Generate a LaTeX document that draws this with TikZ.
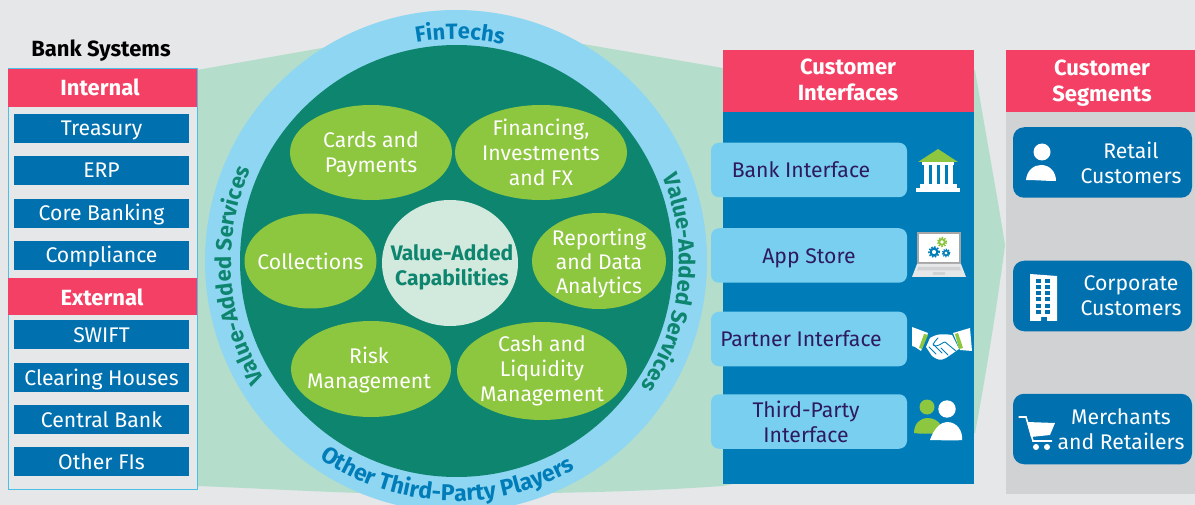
\documentclass[tikz,border=0pt]{standalone}
\usepackage{fontspec}
\setmainfont{Fira Sans}
\usetikzlibrary{shapes.geometric,decorations.text,calc}
\definecolor{bgc}{HTML}{E6E7E9}
\definecolor{bandc}{HTML}{B4DECB}
\definecolor{ringc}{HTML}{8FD6F2}
\definecolor{tealc}{HTML}{0E856E}
\definecolor{limec}{HTML}{8DC63F}
\definecolor{palec}{HTML}{D2E9DD}
\definecolor{redc}{HTML}{F44064}
\definecolor{rowc}{HTML}{0070AF}
\definecolor{panelc}{HTML}{007DB8}
\definecolor{skyc}{HTML}{78CFEF}
\definecolor{grayc}{HTML}{D1D2D4}
\definecolor{inkc}{HTML}{2E1A5E}
\definecolor{edgec}{HTML}{4BBFE6}
\tikzset{
  txt/.style={inner sep=0pt,align=center,font=\fontsize{21.2}{25}\selectfont},
  wtxt/.style={txt,text=white},
  head/.style={inner sep=0pt,align=center,text=white,font=\fontsize{22}{26}\selectfont\bfseries},
  redbar/.style={fill=redc,inner sep=0pt,minimum width=#1},
  rowbox/.style={fill=rowc,text=white,inner sep=0pt,minimum width=175pt,minimum height=29pt,text height=19pt,text depth=4pt,font=\fontsize{21.2}{25}\selectfont},
  skybox/.style={fill=skyc,rounded corners=8pt,inner sep=0pt,minimum width=196pt,minimum height=54.5pt},
  segbox/.style={fill=rowc,rounded corners=11pt,inner sep=0pt,minimum width=179pt,minimum height=70.5pt},
  bub/.style={ellipse,fill=limec,inner sep=0pt},
}
\newcommand{\ringtext}[6]{%
  \path[decorate,decoration={text along path,text align=center,
    text={|\fontsize{#6}{26}\selectfont\bfseries\color{#5}|#1}}]
    (c) ++(#2:#4pt) arc[start angle=#2,end angle=#3,radius=#4pt];}
\begin{document}
\begin{tikzpicture}[x=1pt,y=-1pt]
\useasboundingbox (0,0) rectangle (1195,505);
\clip (0,0) rectangle (1195,505);
\fill[bgc] (0,0) rectangle (1195,505);
% green band
\fill[bandc] (197,70) -- (322,48) -- (583,44) -- (723,68) -- (975,70)
  .. controls (985,130) and (998,200) .. (1005,245)
  .. controls (998,300) and (985,380) .. (975,433)
  -- (723,486) .. controls (650,491) and (600,492) .. (550,493)
  -- (360,493) .. controls (300,491) and (250,488) .. (197,486) -- cycle;
% rings
\coordinate (c) at (456,261);
\node (ring) [ellipse,fill=ringc,inner sep=0pt,minimum width=502pt,minimum height=502pt] at (c) {};
\node (core) [ellipse,fill=tealc,inner sep=0pt,minimum width=433pt,minimum height=432pt] at (456.5,261) {};
% ring text
\ringtext{FinTechs}{110}{68}{222}{panelc}{22}
\ringtext{Value-Added Services}{226}{142}{225}{tealc}{22}
\ringtext{Value-Added Services}{36}{-48}{223}{tealc}{22}
\ringtext{Other Third-Party Players}{225}{310}{240}{panelc}{23}
% bubbles
\node (b1) [bub,minimum width=162pt,minimum height=95pt] at (371,152.5) {};
\node[wtxt] at (371,154.5) {Cards and\\Payments};
\node (b2) [bub,minimum width=172pt,minimum height=95pt] at (541,152.5) {};
\node[wtxt] at (b2) {Financing,\\Investments\\and FX};
\node (b3) [bub,minimum width=132pt,minimum height=95pt] at (310.5,261) {};
\node[wtxt] at (b3) {Collections};
\node (b4) [bub,fill=palec,minimum width=136pt,minimum height=126pt] at (450,263) {};
\node[txt,text=tealc,font=\fontsize{21}{25}\selectfont\bfseries] at (452,267) {Value-Added\\Capabilities};
\node (b5) [bub,minimum width=134pt,minimum height=96pt] at (599,261) {};
\node[wtxt,font=\fontsize{21.2}{24}\selectfont] at (599,263) {Reporting\\and Data\\Analytics};
\node (b6) [bub,minimum width=160pt,minimum height=96pt] at (371,369) {};
\node[wtxt] at (369,370) {Risk\\Management};
\node (b7) [bub,minimum width=170pt,minimum height=98pt] at (542,371) {};
\node[wtxt] at (b7) {Cash and\\Liquidity\\Management};
% left panel
\node[inner sep=0pt,font=\fontsize{22}{26}\selectfont\bfseries] (bs) at (101,50.5) {Bank Systems};
\node (lp) [draw=edgec,line width=1pt,fill=bgc,inner sep=0pt,minimum width=189pt,minimum height=420pt] at (102.5,279) {};
\node (int) [redbar=189pt,minimum height=38pt] at (102.5,88) {};
\node[head] at (100,87) {Internal};
\node (ext) [redbar=189pt,minimum height=37pt] at (102.5,296.5) {};
\node[head] at (102,297) {External};
\node (r1) [rowbox] at (101.5,128.5) {Treasury};
\node (r2) [rowbox] at (101.5,170.5) {ERP};
\node (r3) [rowbox] at (101.5,213.5) {Core Banking};
\node (r4) [rowbox] at (101.5,255.5) {Compliance};
\node (r5) [rowbox] at (101.5,334.5) {SWIFT};
\node (r6) [rowbox] at (101.5,377.5) {Clearing Houses};
\node (r7) [rowbox] at (101.5,419.5) {Central Bank};
\node (r8) [rowbox] at (101.5,461.5) {Other FIs};
% interfaces panel
\node (ip) [fill=panelc,inner sep=0pt,minimum width=251pt,minimum height=434pt] at (848.5,267) {};
\node (ih) [redbar=251pt,minimum height=62pt] at (848.5,81) {};
\node[head] at (848,80) {Customer\\Interfaces};
\node (i1) [skybox] at (809,170) {};
\node[txt,text=inkc] at (801,170) {Bank Interface};
\node (i2) [skybox] at (809,255.5) {};
\node[txt,text=inkc] at (809,258) {App Store};
\node (i3) [skybox] at (809,339) {};
\node[txt,text=inkc] at (801,339) {Partner Interface};
\node (i4) [skybox] at (809,421.5) {};
\node[txt,text=inkc] at (806,421.5) {Third-Party\\Interface};
% segments panel
\node (sp) [fill=grayc,inner sep=0pt,minimum width=189pt,minimum height=444pt] at (1100.5,272) {};
\node (sh) [redbar=189pt,minimum height=62pt] at (1100.5,81) {};
\node[head] at (1102,83) {Customer\\Segments};
\node (s1) [segbox] at (1102.5,162.5) {};
\node[wtxt] at (1131,162.5) {Retail\\Customers};
\node (s2) [segbox] at (1102.5,296) {};
\node[wtxt] at (1131,296) {Corporate\\Customers};
\node (s3) [segbox] at (1102.5,429) {};
\node[wtxt] at (1121,429) {Merchants\\and Retailers};
% bank icon
\fill[limec] (918,162) -- (938,149) -- (958,162) -- cycle;
\fill[white] (922,162) rectangle (954,165.5);
\foreach \cx in {924,932,940,948} \fill[white] (\cx,165) rectangle (\cx+4.5,185);
\fill[white] (920,184) rectangle (957,188.5);
\fill[white] (916,188) rectangle (960,192);
% laptop icon
\fill[gray!70] (917,232) rectangle (961,264);
\fill[white] (919,234) rectangle (959,262);
\fill[bgc] (917,264) -- (961,264) -- (966,277) -- (912,277) -- cycle;
\fill[grayc] (918,267) -- (960,267) -- (961,270.5) -- (917,270.5) -- cycle;
\fill[grayc] (933,272.5) rectangle (945,275);
\draw[limec,line width=2pt] (942,242) circle[radius=2.8pt];
\draw[limec,line width=1.6pt,dash pattern=on 1.4pt off 1.4pt] (942,242) circle[radius=4.4pt];
\draw[panelc,line width=2.2pt] (934,252) circle[radius=3.4pt];
\draw[panelc,line width=1.6pt,dash pattern=on 1.5pt off 1.6pt] (934,252) circle[radius=5.2pt];
\draw[panelc,line width=1.6pt] (946,253) circle[radius=2.4pt];
\draw[panelc,line width=1.2pt,dash pattern=on 1.2pt off 1.2pt] (946,253) circle[radius=3.8pt];
% handshake icon
\fill[white] (912,327) -- (928,333) -- (921,351) -- (915,347) -- (912,346) -- cycle;
\fill[limec] (924,334) -- (928,335) -- (922,349) -- (919,348) -- cycle;
\fill[white] (970,328) -- (972,351) -- (960,350) -- (953,333) -- cycle;
\fill[limec] (955,334) -- (958,333) -- (963,348) -- (959,349) -- cycle;
\fill[white] (930,338) .. controls (938,333) and (945,334) .. (952,335)
  -- (959,349) -- (946,358) .. controls (940,361) and (938,360) .. (932,356) -- (926,347) -- cycle;
\draw[panelc,line width=.9pt,line cap=round] (938,338) .. controls (934,342) and (931,346) .. (936,346) .. controls (941,345) and (943,342) .. (945,342) -- (956,351);
\draw[panelc,line width=.9pt,line cap=round] (929,347) -- (936,354) (933,344) -- (942,353) (941,348) -- (948,355);
% third-party icon
\fill[limec] (927,407) circle[radius=7.5pt];
\fill[limec] (914,433) .. controls (914,422) and (922,418) .. (927,418) .. controls (934,418) and (938,421) .. (940,424) -- (938,433) .. controls (930,434) and (920,434) .. (914,433) -- cycle;
\fill[white] (947,409) circle[radius=8.7pt];
\fill[white] (930,440) .. controls (934,428) and (941,422) .. (947,422) .. controls (957,422) and (963,431) .. (962,440) .. controls (952,441) and (940,440) .. (930,440) -- cycle;
% retail person icon
\fill[white] (1042,152) circle[radius=8.5pt];
\fill[white] (1026,180) .. controls (1027,170) and (1034,165) .. (1041,165) .. controls (1050,165) and (1056,172) .. (1056,181) .. controls (1046,181) and (1036,180) .. (1026,180) -- cycle;
% building icon
\fill[white] (1030,274) -- (1057,276) -- (1057,321) -- (1047,321) -- (1047,317) -- (1041,317) -- (1041,321) -- (1030,321) -- cycle;
\foreach \wy in {279,285,291,297,304,310} {
  \fill[rowc] (1036,\wy) rectangle (1041,\wy+4);
  \fill[rowc] (1045,\wy) rectangle (1050,\wy+4);
}
% cart icon
\draw[white,line width=1.6pt] (1018.5,417) -- (1026,417) -- (1033,441) -- (1052,441);
\fill[white] (1027,422) -- (1055,423) -- (1050,435) -- (1031,437) -- cycle;
\fill[white] (1036,447) circle[radius=3pt];
\fill[white] (1047,447) circle[radius=3pt];
\end{tikzpicture}
\end{document}
